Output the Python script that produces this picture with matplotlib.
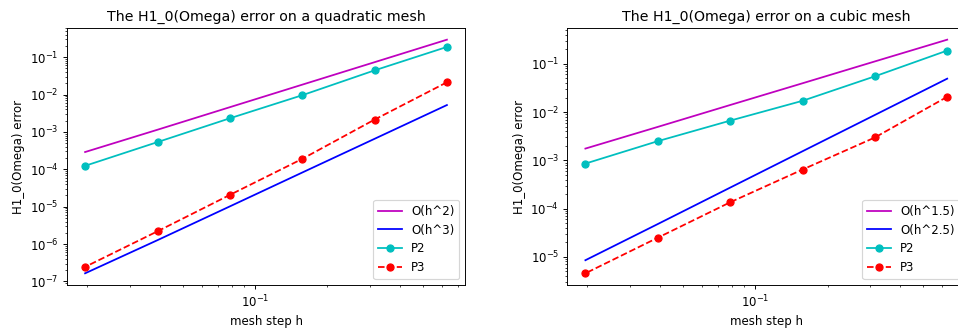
import matplotlib
matplotlib.use("Agg")
import matplotlib.pyplot as plt

h = [0.628, 0.314, 0.157, 0.0785, 0.0393, 0.0196]

# quadratic mesh
quad_ref2 = [0.294, 0.0735, 0.0184, 4.6e-3, 1.15e-3, 2.9e-4]
quad_ref3 = [5.24e-3, 6.55e-4, 8.2e-5, 1.02e-5, 1.28e-6, 1.65e-7]
quad_P2 = [0.188, 4.44e-2, 9.6e-3, 2.32e-3, 5.37e-4, 1.24e-4]
quad_P3 = [0.0213, 2.14e-3, 1.9e-4, 2.07e-5, 2.21e-6, 2.45e-7]

# cubic mesh
cub_ref15 = [0.316, 0.112, 0.0395, 0.014, 4.94e-3, 1.75e-3]
cub_ref25 = [0.0492, 8.7e-3, 1.54e-3, 2.72e-4, 4.8e-5, 8.5e-6]
cub_P2 = [0.188, 0.055, 0.0171, 6.64e-3, 2.5e-3, 8.55e-4]
cub_P3 = [0.0207, 2.97e-3, 6.43e-4, 1.35e-4, 2.5e-5, 4.55e-6]

titles = ["The H1_0(Omega) error on a quadratic mesh",
          "The H1_0(Omega) error on a cubic mesh"]
ref_labels = [["O(h^2)", "O(h^3)"], ["O(h^1.5)", "O(h^2.5)"]]

dpi = 85
W, H = 958, 330
fig = plt.figure(figsize=(W / dpi, H / dpi), dpi=dpi)
ax1 = fig.add_axes([67 / W, (H - 285) / H, 398 / W, 257 / H])
ax2 = fig.add_axes([567.3 / W, (H - 285) / H, 398 / W, 257 / H])

data = [(quad_ref2, quad_ref3, quad_P2, quad_P3),
        (cub_ref15, cub_ref25, cub_P2, cub_P3)]

for ax, (r1, r2, p2, p3), t, labs in zip([ax1, ax2], data, titles, ref_labels):
    ax.loglog(h, r1, 'm-', label=labs[0])
    ax.loglog(h, r2, 'b-', label=labs[1])
    ax.loglog(h, p2, 'c-o', label="P2")
    ax.loglog(h, p3, 'r--o', label="P3")
    ax.set_title(t, fontsize=12)
    ax.set_xlabel("mesh step h", fontsize=10)
    ax.set_ylabel("H1_0(Omega) error", fontsize=10)
    ax.tick_params(labelsize=10)
    ax.legend(loc="lower right", fontsize=10)

fig.savefig("out.png", dpi=dpi)
